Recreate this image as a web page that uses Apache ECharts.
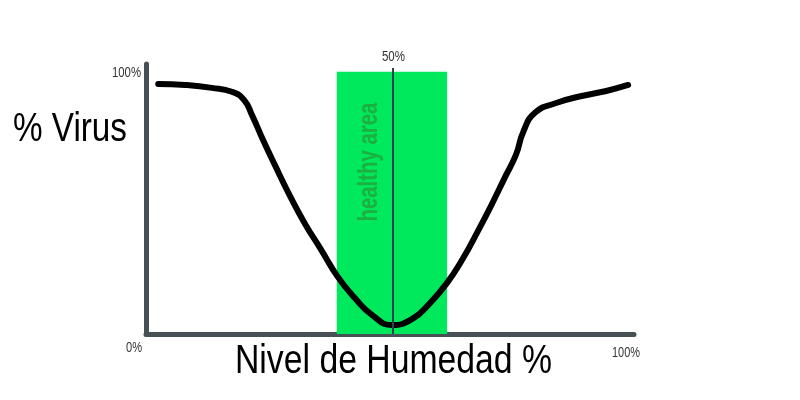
<!DOCTYPE html>
<html>
<head>
<meta charset="utf-8">
<script src="https://cdn.jsdelivr.net/npm/echarts@6/dist/echarts.min.js"></script>
<style>html,body{margin:0;padding:0;background:#fff}#c{width:800px;height:400px}</style>
</head>
<body>
<div id="c"></div>
<script>
// Data
var humidity = [2.5, 8.0, 13.5, 17.6, 20.1, 21.7, 23.8, 26.4, 29.5, 32.6, 35.9, 39.3, 42.8, 46.3, 50.4, 54.5, 58.2, 61.7, 65.0, 67.8, 70.7, 73.4, 75.8, 77.3, 79.7, 84.2, 89.3, 94.3, 98.8];
var virus    = [95.4, 95.0, 93.9, 92.4, 89.3, 83.6, 74.8, 64.5, 52.7, 42.0, 32.1, 21.8, 13.7, 7.3, 3.4, 5.7, 11.8, 19.5, 29.0, 38.5, 48.9, 59.2, 68.3, 77.1, 84.4, 88.2, 90.8, 92.7, 95.0];
var healthyRange = [39.1, 61.7];
var healthyLabel = 'healthy area';
var midValue = 50.6;
var midLabel = '50%';
var xTickLabels = ['0%', '100%'];
var yTickLabels = ['100%'];
var xTitle = 'Nivel de Humedad %';
var yTitle = '% Virus';

var points = humidity.map(function (h, i) { return [h, virus[i]]; });
var FONT = '"Liberation Sans", Arial, Helvetica, sans-serif';

var ctx = document.createElement('canvas').getContext('2d');
function fit(text, font, targetW) {
  ctx.font = font;
  return targetW / ctx.measureText(text).width;
}

var chart = echarts.init(document.getElementById('c'));
chart.setOption({
  animation: false,
  grid: { left: 146, right: 166, top: 64, bottom: 66 },
  xAxis: {
    type: 'value', min: 0, max: 100,
    axisLine: { show: true, onZero: false, lineStyle: { color: '#465055', width: 5 } },
    axisTick: { show: false }, axisLabel: { show: false }, splitLine: { show: false }
  },
  yAxis: {
    type: 'value', min: 0, max: 103,
    axisLine: { show: true, lineStyle: { color: '#465055', width: 5 } },
    axisTick: { show: false }, axisLabel: { show: false }, splitLine: { show: false }
  },
  series: [{
    type: 'line',
    data: points,
    smooth: 0.5,
    symbol: 'none',
    lineStyle: { color: '#000', width: 6, cap: 'round', join: 'round' },
    z: 3,
    markArea: {
      silent: true,
      itemStyle: { color: '#00e85c' },
      data: [[{ xAxis: healthyRange[0], yAxis: 0 }, { xAxis: healthyRange[1], yAxis: 100 }]]
    },
    markLine: {
      silent: true,
      symbol: 'none',
      lineStyle: { color: '#2f4448', width: 2, type: 'solid' },
      label: { show: false },
      data: [[{ coord: [midValue, 0] }, { coord: [midValue, 101.5] }]]
    }
  }]
});

var pMid = chart.convertToPixel({ gridIndex: 0 }, [(healthyRange[0] + healthyRange[1]) / 2, 65.6]);
var pTop = chart.convertToPixel({ gridIndex: 0 }, [midValue, 101.5]);
var p0 = chart.convertToPixel({ gridIndex: 0 }, [0, 0]);
var p100 = chart.convertToPixel({ gridIndex: 0 }, [100, 100]);

function txt(text, x, y, size, targetW, color, rot, weight) {
  var font = (weight || 'normal') + ' ' + size + 'px ' + FONT;
  return {
    type: 'text', x: x, y: y, z: 100, rotation: rot || 0,
    scaleX: fit(text, font, targetW),
    style: { text: text, fill: color, font: font, textAlign: 'center', textVerticalAlign: 'middle' }
  };
}

chart.setOption({
  graphic: [
    txt(healthyLabel, pMid[0] - 23, pMid[1], 28, 119, '#1cb03e', Math.PI / 2, 'bold'),
    txt(midLabel, pTop[0] + 0.5, pTop[1] - 11, 14, 23, '#333'),
    txt(yTickLabels[0], p0[0] - 19.5, p100[1] + 0.5, 15, 29, '#333'),
    txt(xTickLabels[0], p0[0] - 12, p0[1] + 13.5, 15, 16, '#333'),
    txt(xTickLabels[1], p100[0] - 8, p0[1] + 19, 15, 28, '#333'),
    txt(xTitle, 393.5, 362, 40, 317, '#000'),
    txt(yTitle, 70, 130, 40, 114, '#000')
  ]
});
</script>
</body>
</html>
